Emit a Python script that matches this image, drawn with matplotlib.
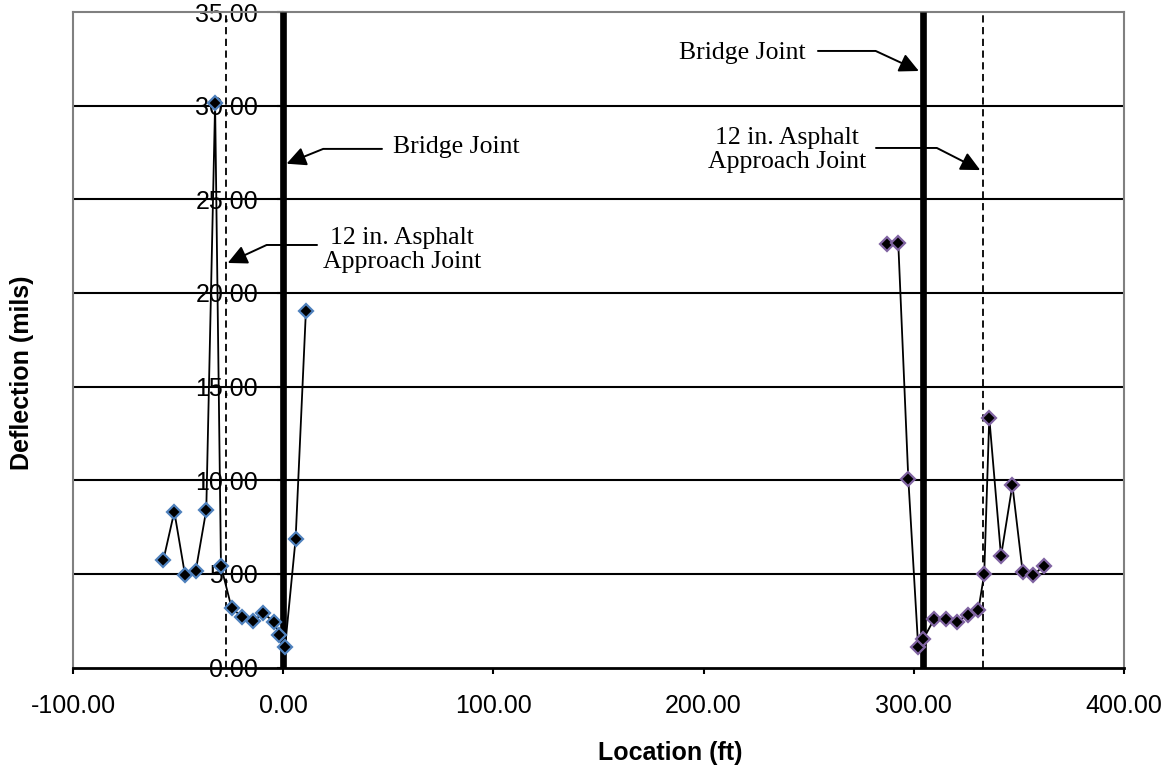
import numpy as np
import matplotlib
matplotlib.use("Agg")
import matplotlib.pyplot as plt
from matplotlib.ticker import FormatStrFormatter

# deflection data, west approach (blue edged) and east approach (purple edged)
west_x = [-57.0, -51.8, -46.7, -41.6, -36.6, -32.4, -29.6, -24.5, -19.5, -14.2,
          -9.5, -4.4, -1.8, 0.9, 5.9, 10.8]
west_y = [5.74, 8.32, 4.94, 5.17, 8.41, 30.12, 5.42, 3.16, 2.71, 2.50,
          2.89, 2.45, 1.73, 1.11, 6.86, 19.03]

east_x = [287.4, 292.6, 297.4, 302.1, 304.5, 309.6, 315.3, 320.4, 325.6, 330.7,
          333.5, 335.9, 341.5, 346.9, 351.8, 356.9, 362.0]
east_y = [22.61, 22.68, 10.05, 1.08, 1.51, 2.57, 2.57, 2.45, 2.80, 3.07,
          4.99, 13.34, 5.95, 9.74, 5.08, 4.94, 5.44]

bridge_joints = [0.0, 304.6]
approach_joints = [-27.2, 333.1]

xticks = [-100, 0, 100, 200, 300, 400]
yticks = [0, 5, 10, 15, 20, 25, 30, 35]

plt.rcParams['font.family'] = ['Liberation Sans', 'DejaVu Sans']

fig = plt.figure(figsize=(11.72, 7.7), dpi=100)
ax = fig.add_axes([73/1172, 1 - 667.5/770, (1124 - 73)/1172, (667.5 - 12)/770])
ax.set_axisbelow(True)

for v in yticks[1:-1]:
    ax.axhline(v, color="k", lw=1.5, zorder=1)

for xb in bridge_joints:
    ax.plot([xb, xb], [0, 35], color="k", lw=4.8, zorder=3, solid_capstyle="butt")
for xa in approach_joints:
    ax.plot([xa, xa], [0, 35], color="k", lw=1.3, ls=(0, (4, 2.5)), zorder=3)

ax.plot(west_x, west_y, color="k", lw=1.3, marker="D", ms=7.2, mfc="k",
        mec="#4F81BD", mew=1.6, zorder=4)
ax.plot(east_x, east_y, color="k", lw=1.3, marker="D", ms=7.2, mfc="k",
        mec="#8064A2", mew=1.6, zorder=4)

# annotations
serif = "Liberation Serif"
arw = dict(arrowstyle="-|>,head_length=0.65,head_width=0.32", color="k", lw=1.4,
           shrinkA=0, shrinkB=0, mutation_scale=18)

ax.text(82.2, 27.79, "Bridge Joint", family=serif, fontsize=18.5, ha="center", va="center")
ax.annotate("", xy=(1.6, 26.9), xytext=(47.0, 27.69),
            arrowprops=dict(arw, connectionstyle="angle,angleA=0,angleB=22,rad=0"))

ax.text(56.5, 22.29, "12 in. Asphalt\nApproach Joint", family=serif, fontsize=18.5,
        ha="center", va="center", linespacing=1.15)
ax.annotate("", xy=(-26.4, 21.6), xytext=(16.1, 22.56),
            arrowprops=dict(arw, connectionstyle="angle,angleA=0,angleB=24.8,rad=0"))

ax.text(218.5, 32.81, "Bridge Joint", family=serif, fontsize=18.5, ha="center", va="center")
ax.annotate("", xy=(302.4, 31.85), xytext=(254.4, 32.92),
            arrowprops=dict(arw, connectionstyle="angle,angleA=0,angleB=-24.9,rad=0"))

ax.text(239.7, 27.63, "12 in. Asphalt\nApproach Joint", family=serif, fontsize=18.5,
        ha="center", va="center", linespacing=1.15)
ax.annotate("", xy=(331.6, 26.56), xytext=(282.0, 27.74),
            arrowprops=dict(arw, connectionstyle="angle,angleA=0,angleB=-27,rad=0"))

ax.set_xlim(-100, 400)
ax.set_ylim(0, 35)
ax.set_xticks(xticks)
ax.set_yticks(yticks)
ax.xaxis.set_major_formatter(FormatStrFormatter("%.2f"))
ax.yaxis.set_major_formatter(FormatStrFormatter("%.2f"))

ax.spines["left"].set_position(("data", 0))
ax.spines["left"].set_color("k")
ax.spines["left"].set_linewidth(1.5)
ax.spines["bottom"].set_color("k")
ax.spines["bottom"].set_linewidth(2)
for s in ["top", "right"]:
    ax.spines[s].set_color("#808080")
    ax.spines[s].set_linewidth(1.5)
ax.axvline(-100, color="#808080", lw=1.5, clip_on=False)

ax.tick_params(axis="x", direction="out", length=4, width=1.5, pad=15, labelsize=18)
ax.tick_params(axis="y", direction="out", length=4, width=1.5, pad=14, labelsize=18)

ax.set_xlabel("Location (ft)", fontsize=18, fontweight="bold")
ax.xaxis.set_label_coords(0.568, -0.141)
ax.xaxis.label.set_va("baseline")
ax.set_ylabel("Deflection (mils)", fontsize=18, fontweight="bold")
ax.yaxis.set_label_coords(-0.037, 0.45)

fig.savefig("out.png", dpi=100)
plt.close()
